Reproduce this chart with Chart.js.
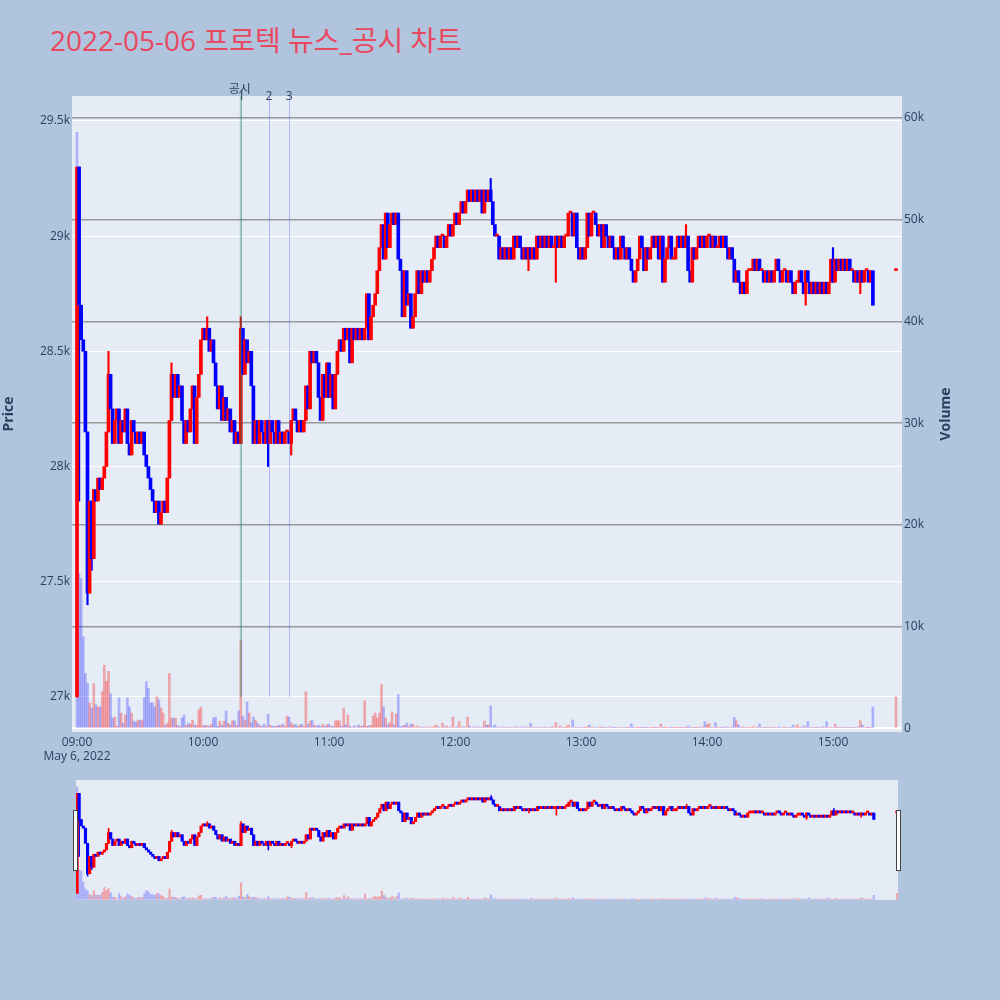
<!DOCTYPE html>
<html lang="ko">
<head>
<meta charset="UTF-8">
<title>2022-05-06 프로텍 뉴스_공시 차트</title>
<script src="https://cdn.jsdelivr.net/npm/chart.js"></script>
<style>
  * { margin: 0; padding: 0; box-sizing: border-box; }
  body {
    width: 1000px;
    height: 1000px;
    background: #b0c4de;
    font-family: 'Open Sans', 'Noto Sans CJK KR', sans-serif;
    position: relative;
    overflow: hidden;
  }
  .title {
    position: absolute;
    left: 50px;
    top: 24px;
    font-size: 28px;
    line-height: 32px;
    color: #e8495f;
    white-space: nowrap;
  }
  #mainChart { position: absolute; left: 0; top: 0; }
  #sliderChart { position: absolute; left: 76px; top: 780px; background: #e5ecf6; }
  .handle {
    position: absolute;
    top: 810px;
    width: 5px;
    height: 61px;
    background: #fff;
    border: 1px solid #444;
  }
</style>
</head>
<body>
  <div class="title">2022-05-06 프로텍 뉴스_공시 차트</div>
  <canvas id="mainChart" width="1000" height="780"></canvas>
  <canvas id="sliderChart" width="822" height="120"></canvas>
  <div class="handle" style="left:73px"></div>
  <div class="handle" style="left:896px"></div>

<script>
// 1-minute closes from 09:00 (index = minutes after open), null = no trade
const firstOpen = 27000;
const closes = [
  29300, 28700, 28550, 28500, 28150, 27450, 27850, 27600, 27900, 27850,
  27950, 27900, 27950, 28000, 28150, 28400, 28250, 28100, 28200, 28250,
  28100, 28200, 28150, 28250, 28100, 28050, 28200, 28150, 28100, 28150,
  28100, 28150, 28050, 28000, 27950, 27900, 27850, 27800, 27850, 27750,
  27800, 27850, 27800, 27950, 28200, 28400, 28300, 28400, 28300, 28350,
  28200, 28100, 28200, 28150, 28250, 28350, 28100, 28300, 28400, 28550,
  28600, 28550, 28600, 28500, 28550, 28450, 28350, 28250, 28350, 28200,
  28300, 28200, 28250, 28150, 28200, 28100, 28150, 28100, 28600, 28400,
  28550, 28450, 28500, 28350, 28100, 28200, 28100, 28200, 28150, 28100,
  28200, 28100, 28200, 28150, 28100, 28200, 28100, 28150, 28100, 28150,
  28150, 28100, 28200, 28250, 28200, 28150, 28200, 28150, 28200, 28350,
  28250, 28500, 28450, 28500, 28450, 28300, 28200, 28400, 28300, 28450,
  28300, 28400, 28250, 28400, 28500, 28550, 28500, 28600, 28550, 28600,
  28450, 28600, 28550, 28600, 28550, 28600, 28550, 28600, 28750, 28550,
  28650, 28700, 28750, 28850, 28950, 29050, 28900, 29100, 28950, 29050,
  29100, 29050, 29100, 28900, 28850, 28650, 28850, 28700, 28750, 28600,
  28650, 28750, 28850, 28750, 28850, 28800, 28850, 28800, 28850, 28900,
  28950, 29000, 28950, 29000, 29000, 28950, 29000, 29050, 29000, 29050,
  29100, 29050, 29100, 29150, 29100, 29150, 29200, 29150, 29200, 29150,
  29200, 29150, 29200, 29100, 29200, 29150, 29200, 29150, 29050, 29000,
  29000, 28900, 28950, 28900, 28950, 28900, 28950, 28900, 29000, 28950,
  29000, 28950, 28900, 28950, 28900, 28950, 28900, 28950, 28900, 29000,
  28950, 29000, 28950, 29000, 28950, 29000, 28950, 28950, 29000, 28950,
  29000, 28950, 29000, 29000, 29100, 29100, 29000, 29100, 28950, 28900,
  28950, 28900, 28950, 29100, 29000, 29100, 29100, 29050, 29000, 29050,
  28950, 29050, 29000, 28950, 29000, 28950, 28900, 28950, 28900, 29000,
  28950, 28900, 28950, 28900, 28850, 28800, 28850, 28900, 29000, 28950,
  28850, 28950, 28900, 28950, 29000, 28950, 29000, 28900, 29000, 28800,
  28900, 28950, 29000, 28900, 28900, 28950, 29000, 28950, 29000, 28950,
  29000, 28850, 28800, 28950, 28900, 28950, 29000, 28950, 29000, 28950,
  29000, 29000, 28950, 29000, 28950, 28950, 29000, 28950, 29000, 28950,
  28900, 28950, 28900, 28800, 28850, 28800, 28750, 28800, 28750, 28850,
  28850, 28850, 28900, 28850, 28900, 28850, 28850, 28800, 28850, 28800,
  28850, 28800, 28850, 28900, 28850, 28800, 28850, 28850, 28800, 28850,
  28800, 28750, 28800, 28800, 28850, 28800, 28750, 28850, 28800, 28750,
  28800, 28750, 28800, 28750, 28800, 28750, 28800, 28750, 28800, 28900,
  28800, 28900, 28850, 28900, 28850, 28900, 28850, 28900, 28850, 28850,
  28800, 28850, 28800, 28850, 28800, 28850, 28850, 28800, 28850, 28700,
  null, null, null, null, null, null, null, null, null, null,
  28850
];

const volumes = [
  58600, 15200, 14700, 9000, 5400, 4400, 2500, 2000, 4400, 2300,
  2100, 2100, 3600, 6200, 4600, 5600, 3400, 1000, 1100, 200,
  3000, 1500, 500, 1300, 3000, 2100, 1500, 700, 600, 800,
  800, 800, 3000, 4600, 3900, 2500, 2500, 2100, 3100, 2800,
  2000, 1500, 300, 500, 5400, 1000, 1000, 1000, 300, 200,
  1000, 1300, 300, 500, 400, 800, 300, 300, 1800, 2100,
  250, 300, 250, 200, 400, 1000, 1100, 200, 700, 300,
  700, 1700, 500, 300, 750, 750, 300, 1700, 8600, 1200,
  800, 2600, 1500, 550, 1100, 800, 500, 300, 200, 400,
  200, 1400, 300, 200, 200, 200, 300, 300, 400, 200,
  1200, 1100, 550, 300, 400, 200, 300, 400, 200, 3600,
  400, 700, 800, 300, 200, 300, 200, 400, 200, 350,
  400, 200, 200, 720, 750, 720, 200, 2000, 330, 1300,
  200, 100, 250, 100, 330, 200, 230, 2700, 200, 230,
  300, 1200, 1500, 1000, 1500, 4300, 2100, 1000, 330, 560,
  1600, 330, 1400, 3300, 160, 230, 300, 500, 200, 420,
  400, 100, 230, 100, 150, 100, 120, 100, 150, 100,
  200, 330, 160, 100, 500, 150, 230, 100, 150, 1100,
  100, 150, 660, 100, 150, 100, 1100, 230, 100, 150,
  100, 150, 100, 120, 720, 300, 360, 2200, 150, 330,
  100, 120, 100, 160, 100, 80, 100, 100, 120, 160,
  100, 80, 160, 100, 120, 80, 500, 100, 80, 100,
  80, 100, 120, 80, 100, 100, 160, 80, 560, 100,
  230, 100, 80, 160, 330, 100, 820, 100, 80, 100,
  80, 100, 80, 160, 330, 80, 100, 100, 100, 160,
  80, 60, 100, 80, 160, 80, 60, 80, 100, 100,
  80, 100, 60, 80, 420, 80, 100, 60, 80, 60,
  80, 60, 100, 80, 60, 80, 60, 100, 420, 80,
  60, 80, 100, 60, 80, 60, 80, 100, 60, 80,
  60, 230, 80, 60, 80, 60, 100, 80, 150, 660,
  330, 490, 80, 100, 560, 80, 100, 60, 80, 160,
  80, 100, 160, 1080, 750, 330, 100, 160, 100, 80,
  100, 80, 160, 100, 80, 420, 100, 80, 60, 80,
  100, 60, 80, 100, 160, 80, 100, 60, 80, 100,
  80, 330, 100, 330, 80, 100, 230, 80, 650, 100,
  80, 100, 60, 80, 100, 160, 80, 650, 100, 80,
  100, 420, 80, 60, 100, 80, 60, 100, 80, 60,
  80, 100, 160, 750, 330, 100, 80, 60, 100, 2100,
  null, null, null, null, null, null, null, null, null, null,
  3100
];
// minutes whose volume bar is shown in the "down" colour
const downVolumeMinutes = [0];

// [minute, low, high] for candles with visible wicks
const wicks = [
  [1, 27850, 29300], [5, 27400, 28150], [7, 27550, 27850], [15, 28150, 28500],
  [45, 28200, 28450], [62, 28550, 28650], [78, 28100, 28650], [91, 28000, 28200],
  [102, 28050, 28200], [197, 29150, 29250], [215, 28850, 28950], [228, 28800, 29000],
  [290, 28950, 29050], [347, 28700, 28850], [360, 28800, 28950], [373, 28750, 28850]
];

const priceTicks = [27000, 27500, 28000, 28500, 29000, 29500];
const volumeTicks = [0, 10000, 20000, 30000, 40000, 50000, 60000];
const timeTicks = ['09:00', '10:00', '11:00', '12:00', '13:00', '14:00', '15:00'];
const dateLabel = 'May 6, 2022';

const disclosureTime = '10:18:00';
const newsTimes = ['10:18:20', '10:31:25', '10:41:00'];
const newsLabels = ['1', '2', '3'];

const toMinutes = t => {
  const [h, m, s] = t.split(':').map(Number);
  return (h - 9) * 60 + m + (s || 0) / 60;
};

// build candles (open = previous close, or close itself after a gap)
const candles = [];
closes.forEach((c, i) => {
  if (c === null) return;
  const prev = i === 0 ? firstOpen : closes[i - 1];
  const open = prev === null ? c : prev;
  candles.push({ x: i, o: open, c: c, v: volumes[i], up: c >= open });
});
const upAt = {};
candles.forEach(d => { upAt[d.x] = d.up; });

const RED = '#ff0000';
const BLUE = '#0000ff';
const volColor = d => (d.up && !downVolumeMinutes.includes(d.x)) ? 'rgba(255,0,0,0.3)' : 'rgba(0,0,255,0.25)';

function makeDatasets(bodyW, wickW, volW) {
  return [
    {
      label: 'candles',
      data: candles.map(d => ({ x: d.x, y: [d.o, d.c] })),
      backgroundColor: candles.map(d => d.up ? RED : BLUE),
      barThickness: bodyW,
      minBarLength: 2,
      grouped: false,
      yAxisID: 'y',
      order: 1
    },
    {
      label: 'wicks',
      data: wicks.map(w => ({ x: w[0], y: [w[1], w[2]] })),
      backgroundColor: wicks.map(w => upAt[w[0]] ? RED : BLUE),
      barThickness: wickW,
      grouped: false,
      yAxisID: 'y',
      order: 2
    },
    {
      label: 'Volume',
      data: candles.map(d => ({ x: d.x, y: d.v })),
      backgroundColor: candles.map(volColor),
      barThickness: volW,
      grouped: false,
      yAxisID: 'y1',
      order: 3
    }
  ];
}

const fixTicks = list => scale => { scale.ticks = list.map(v => ({ value: v })); };

Chart.defaults.font.family = "'Open Sans', 'Noto Sans CJK KR', sans-serif";
Chart.defaults.font.size = 12;
Chart.defaults.color = '#2a3f5f';

const plotBg = {
  id: 'plotBg',
  beforeDraw(chart) {
    const { ctx, chartArea: a } = chart;
    ctx.save();
    ctx.fillStyle = '#e5ecf6';
    ctx.fillRect(a.left, a.top, a.right - a.left, a.bottom - a.top);
    ctx.restore();
  }
};

const markers = {
  id: 'markers',
  afterDatasetsDraw(chart) {
    const { ctx, chartArea: a, scales } = chart;
    const yBottom = scales.y.getPixelForValue(27000);
    ctx.save();
    // disclosure line
    const gx = scales.x.getPixelForValue(toMinutes(disclosureTime));
    ctx.strokeStyle = 'rgba(0,150,0,0.3)';
    ctx.lineWidth = 2;
    ctx.beginPath();
    ctx.moveTo(gx, a.top);
    ctx.lineTo(gx, yBottom);
    ctx.stroke();
    // news lines
    ctx.strokeStyle = 'rgba(60,90,255,0.35)';
    ctx.lineWidth = 1;
    newsTimes.forEach(t => {
      const x = Math.round(scales.x.getPixelForValue(toMinutes(t))) + 0.5;
      ctx.beginPath();
      ctx.moveTo(x, a.top);
      ctx.lineTo(x, yBottom);
      ctx.stroke();
    });
    ctx.restore();
  },
  afterDraw(chart) {
    const { ctx, chartArea: a, scales } = chart;
    ctx.save();
    ctx.fillStyle = '#2a3f5f';
    ctx.font = "12px 'Open Sans', 'Noto Sans CJK KR', sans-serif";
    ctx.textAlign = 'center';
    ctx.textBaseline = 'middle';
    ctx.fillText('공시', scales.x.getPixelForValue(toMinutes(disclosureTime)) - 1, a.top - 6);
    newsTimes.forEach((t, i) => {
      ctx.fillText(newsLabels[i], scales.x.getPixelForValue(toMinutes(t)), a.top + 1);
    });
    // axis titles
    ctx.font = "bold 14px 'Open Sans', sans-serif";
    const cy = (a.top + a.bottom) / 2;
    ctx.translate(9, cy);
    ctx.rotate(-Math.PI / 2);
    ctx.fillText('Price', 0, 0);
    ctx.rotate(Math.PI / 2);
    ctx.translate(946 - 9, 0);
    ctx.rotate(-Math.PI / 2);
    ctx.fillText('Volume', 0, 0);
    ctx.restore();
  }
};

new Chart(document.getElementById('mainChart'), {
  type: 'bar',
  data: { datasets: makeDatasets(3, 1.5, 2) },
  options: {
    responsive: false,
    animation: false,
    layout: { padding: { top: 96, left: 0, right: 0, bottom: 0 } },
    plugins: { legend: { display: false }, tooltip: { enabled: false } },
    scales: {
      x: {
        type: 'linear',
        offset: false,
        min: -2.38,
        max: 392.86,
        grid: { display: false, drawTicks: false },
        border: { display: false },
        afterBuildTicks: fixTicks([0, 60, 120, 180, 240, 300, 360]),
        afterFit(s) { s.height = 48; },
        ticks: {
          padding: 3,
          maxRotation: 0,
          autoSkip: false,
          callback: v => v === 0 ? [timeTicks[0], dateLabel] : timeTicks[v / 60]
        }
      },
      y: {
        position: 'left',
        min: 26848,
        max: 29608,
        grid: { color: '#ffffff', lineWidth: 1, drawTicks: false },
        border: { display: false },
        afterBuildTicks: fixTicks(priceTicks),
        afterFit(s) { s.width = 72; },
        ticks: { padding: 2, callback: v => (v / 1000) + 'k' }
      },
      y1: {
        position: 'right',
        min: -364,
        max: 62163,
        grid: {
          color: c => c.tick && c.tick.value === 0 ? '#ffffff' : '#999999',
          lineWidth: c => c.tick && c.tick.value === 0 ? 2 : 1.5,
          drawTicks: false
        },
        border: { display: false },
        afterBuildTicks: fixTicks(volumeTicks),
        afterFit(s) { s.width = 98; },
        ticks: { padding: 2, callback: v => v === 0 ? '0' : (v / 1000) + 'k' }
      }
    }
  },
  plugins: [plotBg, markers]
});

// range slider overview
new Chart(document.getElementById('sliderChart'), {
  type: 'bar',
  data: { datasets: makeDatasets(2.5, 1, 1.5) },
  options: {
    responsive: false,
    animation: false,
    layout: { padding: 0 },
    plugins: { legend: { display: false }, tooltip: { enabled: false } },
    scales: {
      x: { type: 'linear', offset: false, min: -0.5, max: 390.5, display: false },
      y: { min: 26848, max: 29608, display: false },
      y1: { min: -364, max: 62163, display: false }
    }
  }
});
</script>
</body>
</html>
